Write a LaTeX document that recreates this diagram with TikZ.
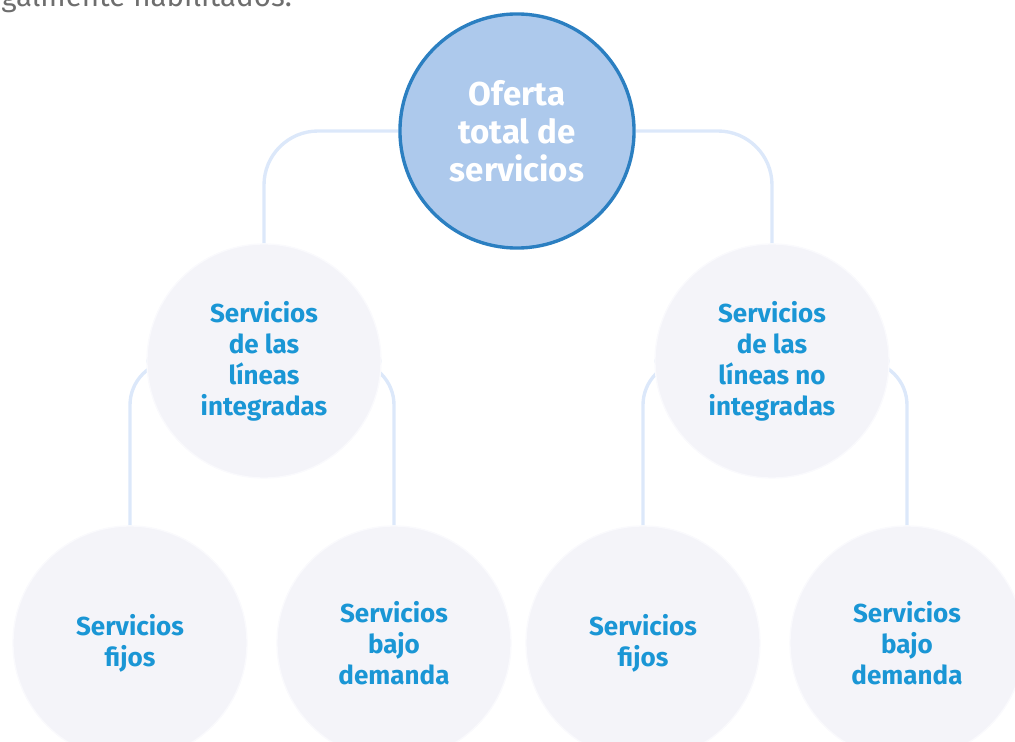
\documentclass[tikz,border=0pt]{standalone}
\usepackage{fontspec}
\setmainfont{Fira Sans}
\usetikzlibrary{positioning,backgrounds}

\definecolor{ofertafill}{HTML}{ADC9EC}
\definecolor{ofertaline}{HTML}{2B7FC1}
\definecolor{subfill}{HTML}{F4F4F9}
\definecolor{subline}{HTML}{FAFAFD}
\definecolor{subtext}{HTML}{1A96D5}
\definecolor{linkcol}{HTML}{DCE8FA}
\definecolor{introtext}{HTML}{6E6E6E}

\begin{document}
\begin{tikzpicture}[x=0.025cm,y=-0.025cm,
    topnode/.style={circle, draw=ofertaline, line width=2.4pt, fill=ofertafill,
      minimum size=5.85cm, inner sep=0pt, align=center, text=white,
      font=\fontsize{23.5}{27}\selectfont\bfseries},
    subnode/.style={circle, draw=subline, line width=1pt, fill=subfill,
      minimum size=5.85cm, inner sep=0pt, align=center, text=subtext,
      font=\fontsize{18.5}{22}\selectfont\bfseries},
    link/.style={draw=linkcol, line width=2.4pt, rounded corners=1.35cm}]
  % Page size
  \useasboundingbox (0,0) rectangle (1015,742);
  \clip (0,0) rectangle (1015,742);

  % Cut-off end of the text above
  \node[anchor=base west, inner sep=0pt, text=introtext,
    font=\fontsize{21}{24}\selectfont] (intro) at (1,7) {galmente habilitados.};

  % Root
  \node[topnode] (oferta) at (517,131) {Oferta\\total de\\servicios};

  % Second level
  \node[subnode] (integ) at (264,361) {Servicios\\de las\\líneas\\integradas};
  \node[subnode] (nointeg) at (772,361) {Servicios\\de las\\líneas no\\integradas};

  % Third level (cut by the lower edge)
  \node[subnode] (ifijos) at (130,643) {Servicios\\fijos};
  \node[subnode] (idemanda) at (394,643) {Servicios\\bajo\\demanda};
  \node[subnode] (nfijos) at (643,643) {Servicios\\fijos};
  \node[subnode] (ndemanda) at (907,643) {Servicios\\bajo\\demanda};

  % Connectors behind the circles
  \begin{scope}[on background layer]
    \draw[link] (oferta) -| (integ);
    \draw[link] (oferta) -| (nointeg);
    \foreach \from/\to in {integ/ifijos, integ/idemanda, nointeg/nfijos, nointeg/ndemanda}
      \draw[link, rounded corners=1.1cm] (\from) -| (\to);
  \end{scope}
\end{tikzpicture}
\end{document}
